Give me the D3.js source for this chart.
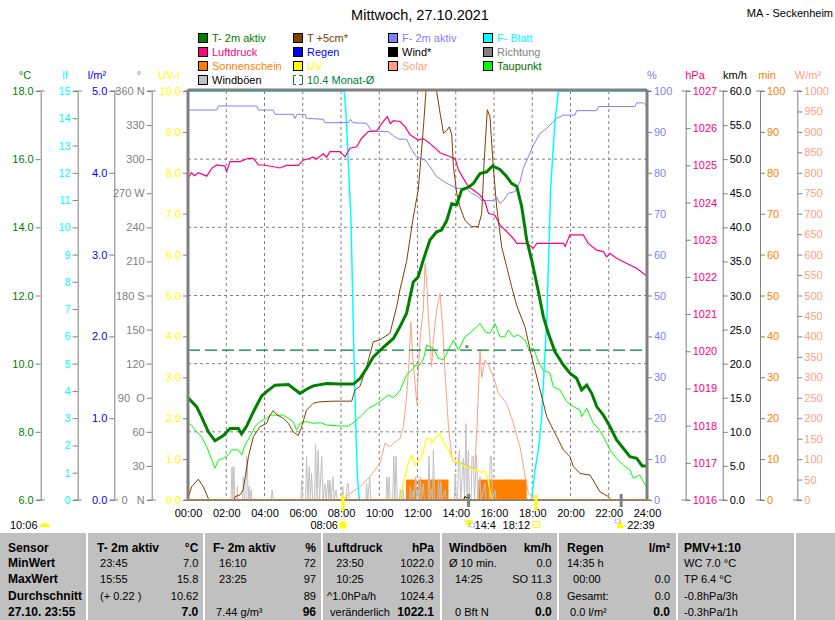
<!DOCTYPE html>
<html lang="de">
<head>
<meta charset="UTF-8">
<title>Mittwoch, 27.10.2021</title>
<script src="https://d3js.org/d3.v7.min.js"></script>
<style>
  body { margin: 0; background: #fff; }
  svg { display: block; font-family: "Liberation Sans", Arial, sans-serif; font-size: 11px; }
  .grid { stroke: #808080; stroke-dasharray: 3,3; stroke-width: 1; }
  .axis line, .axis path { stroke: #808080; }
  .axis text, .tbl text { white-space: pre; }
  .line { fill: none; }
  .b { font-weight: bold; font-size: 12px; }
</style>
</head>
<body>
<svg width="835" height="620"></svg>
<script>
// ---- data (hour, value) ----
const tempAir = [[0,9.0],[0.45,8.74],[0.71,8.44],[1.06,8.0],[1.41,7.74],[1.85,7.89],[2.2,8.1],[2.63,8.1],[2.8,7.94],[3.07,8.17],[3.42,8.59],[3.85,9.05],[4.11,9.18],[4.55,9.37],[5.25,9.39],[5.5,9.28],[5.86,9.13],[6.2,9.25],[6.55,9.35],[7.25,9.42],[7.95,9.4],[8.65,9.4],[9.0,9.57],[9.34,9.86],[9.69,10.2],[10.21,10.48],[10.74,10.74],[11.08,11.08],[11.43,11.48],[11.6,11.93],[11.78,12.4],[12.04,12.55],[12.3,13.04],[12.65,13.63],[13.0,13.87],[13.26,13.92],[13.53,14.2],[13.79,14.69],[14.05,14.66],[14.31,15.1],[14.66,15.18],[14.92,15.29],[15.27,15.58],[15.62,15.63],[15.92,15.8],[16.31,15.7],[16.66,15.49],[16.92,15.29],[17.19,15.2],[17.45,14.6],[17.71,13.63],[17.97,13.04],[18.23,12.36],[18.41,11.87],[18.58,11.38],[18.84,10.89],[19.19,10.35],[19.63,9.96],[19.97,9.72],[20.32,9.57],[20.58,9.23],[20.85,9.37],[21.11,9.13],[21.37,8.74],[21.72,8.49],[22.07,8.15],[22.41,7.76],[22.76,7.52],[23.11,7.27],[23.46,7.22],[23.75,7.0],[24,7.0]];
const tempSoil = [[0,6.05],[0.19,6.39],[0.54,6.61],[0.8,6.39],[1.06,6.05],[1.2,5.8],[2.3,5.8],[2.46,6.1],[2.72,6.15],[2.89,6.3],[3.16,7.27],[3.42,7.86],[3.76,8.15],[4.11,8.25],[4.29,8.49],[4.46,8.62],[4.64,8.5],[4.98,8.4],[5.25,8.25],[5.5,8.0],[5.77,7.89],[5.94,8.15],[6.2,8.64],[6.55,8.84],[6.9,8.88],[7.6,8.9],[8.56,8.9],[8.73,9.23],[8.99,9.33],[9.34,9.91],[9.69,10.64],[10.04,10.7],[10.56,10.89],[10.91,11.67],[11.08,12.16],[11.43,13.0],[11.78,14.3],[12.04,15.1],[12.3,16.86],[12.48,18.3],[12.6,18.8],[12.9,18.5],[13.0,18.0],[13.18,17.35],[13.36,16.76],[13.53,16.85],[13.67,16.95],[13.79,16.71],[13.88,15.78],[14.05,15.0],[14.22,14.6],[14.48,14.2],[14.83,14.02],[15.18,14.02],[15.36,14.41],[15.48,15.88],[15.65,17.45],[15.79,17.25],[15.96,15.78],[16.14,14.6],[16.4,13.43],[16.66,12.85],[16.92,12.26],[17.19,11.7],[17.62,11.08],[17.97,10.2],[18.41,9.23],[18.76,8.44],[19.28,7.86],[19.63,7.47],[19.97,7.27],[20.15,6.98],[20.5,6.78],[21.02,6.73],[21.28,6.49],[21.54,6.24],[21.98,6.1],[22.07,6.0],[22.3,5.8],[24,5.8]];
const dewPoint = [[0,8.25],[0.18,8.2],[0.45,8.0],[0.71,7.86],[0.98,7.56],[1.15,7.32],[1.41,6.93],[1.59,7.17],[1.85,7.22],[2.11,7.32],[2.28,7.47],[2.63,7.47],[2.81,7.32],[2.98,7.61],[3.24,7.86],[3.5,8.15],[3.76,8.3],[4.11,8.4],[4.29,8.49],[4.98,8.49],[5.25,8.4],[5.5,8.3],[5.68,8.05],[5.86,8.25],[6.2,8.3],[6.55,8.25],[6.9,8.27],[7.25,8.2],[7.95,8.17],[8.38,8.17],[8.73,8.3],[9.08,8.49],[9.43,8.69],[9.78,8.79],[10.13,8.93],[10.48,9.08],[10.74,9.0],[11.08,9.2],[11.43,9.67],[11.78,9.86],[11.87,9.96],[12.04,9.93],[12.3,10.11],[12.48,10.55],[12.83,10.45],[13.09,10.16],[13.36,10.11],[13.62,10.4],[13.88,10.69],[14.14,10.4],[14.48,10.79],[14.83,10.94],[15.27,11.18],[15.53,10.94],[15.79,10.89],[16.05,11.18],[16.31,10.79],[16.57,10.79],[16.75,10.99],[17.01,10.79],[17.27,10.84],[17.62,10.69],[17.8,10.45],[18.06,10.45],[18.32,10.06],[18.58,9.81],[18.93,9.72],[19.1,9.32],[19.45,9.23],[19.8,8.88],[20.15,8.74],[20.5,8.64],[20.58,8.44],[20.85,8.69],[21.19,8.25],[21.46,8.1],[21.72,7.86],[22.07,7.47],[22.41,7.22],[22.76,7.03],[23.11,6.88],[23.28,6.64],[23.63,6.73],[23.9,6.44],[24,6.39]];
const monthAvg = 10.4;
const pressure = [[0,1024.65],[0.18,1024.8],[0.35,1024.72],[0.54,1024.8],[0.98,1024.71],[1.24,1024.92],[1.5,1025.01],[1.93,1024.98],[2.02,1024.83],[2.2,1025.1],[2.72,1025.1],[3.16,1025.19],[3.42,1025.19],[3.68,1025.01],[3.94,1025.01],[4.64,1024.95],[4.81,1024.93],[5.16,1025.0],[5.77,1025.0],[6.03,1025.14],[6.55,1025.22],[6.73,1025.17],[7.07,1025.31],[7.25,1025.22],[7.42,1025.37],[7.95,1025.37],[8.21,1025.23],[8.47,1025.46],[8.82,1025.5],[9.08,1025.73],[9.43,1025.91],[9.87,1025.93],[10.13,1026.13],[10.42,1026.31],[10.58,1026.12],[10.74,1026.2],[11.08,1026.18],[11.35,1026.04],[11.61,1025.82],[12.04,1025.68],[12.3,1025.72],[12.65,1025.59],[13.18,1025.34],[13.71,1025.23],[13.97,1025.18],[14.14,1024.88],[14.4,1024.65],[14.66,1024.43],[14.92,1024.34],[15.27,1024.2],[15.53,1024.02],[15.71,1023.71],[16.05,1023.66],[16.31,1023.4],[16.66,1023.22],[17.0,1023.04],[17.19,1022.9],[17.71,1022.9],[18.06,1022.77],[18.24,1022.9],[19.63,1022.9],[19.72,1022.82],[19.97,1023.13],[20.67,1023.13],[20.93,1022.9],[21.37,1022.72],[21.72,1022.68],[21.89,1022.54],[22.07,1022.63],[22.41,1022.5],[22.76,1022.41],[23.11,1022.32],[23.46,1022.23],[24,1022.02]];
const humidity = [[0,95.35],[1.5,95.35],[1.59,96.33],[3.59,96.33],[3.68,95.35],[4.46,95.35],[4.55,94.3],[5.5,94.3],[5.59,93.3],[5.71,94.3],[6.12,94.3],[6.2,93.3],[7.07,93.1],[7.16,92.26],[8.38,92.26],[8.5,93.08],[8.62,92.26],[9.34,92.1],[9.6,90.2],[10.48,90.05],[10.74,89.07],[11.0,88.26],[11.43,88.2],[11.61,86.38],[11.87,84.35],[12.13,83.55],[12.39,83.13],[12.65,81.5],[13.0,79.05],[13.53,77.43],[14.05,76.2],[14.57,76.2],[14.83,75],[15.18,74.16],[15.36,73.2],[15.96,73.2],[16.14,74.0],[16.31,72.5],[16.49,73.2],[16.75,75],[17.1,75.4],[17.36,77.8],[17.53,81.1],[17.8,83.94],[18.06,86.8],[18.41,89.65],[18.76,90.87],[19.1,92.5],[19.28,93.3],[19.63,94.1],[20.24,94.1],[20.32,95.2],[21.37,95.2],[21.46,96.2],[23.37,96.2],[23.46,97.1],[23.81,97.1],[24,96.3]];
const leafWet = [[0,15],[8.17,15],[8.26,14.18],[8.33,13.2],[8.43,11.61],[8.51,10.5],[8.56,9.05],[8.61,7.5],[8.68,5.25],[8.77,2.8],[8.86,0.85],[8.96,0],[17.97,0],[18.14,1.1],[18.32,1.83],[18.49,3.05],[18.61,4.65],[18.76,6.6],[18.84,8.5],[18.96,11.37],[19.1,12.96],[19.19,13.93],[19.28,14.42],[19.37,15],[24,15]];
const solar = [[0,0],[8.09,0],[8.47,16],[9.0,33],[9.52,57],[10.04,90],[10.3,139],[10.56,130],[10.74,139],[11.08,150],[11.26,180],[11.43,250],[11.57,350],[11.65,436],[11.75,350],[11.96,238],[12.13,391],[12.3,465],[12.4,578],[12.5,520],[12.57,448],[12.74,326],[12.83,391],[13.0,465],[13.18,505],[13.32,420],[13.44,310],[13.62,179],[13.79,106],[13.97,90],[14.22,92],[14.57,86],[14.83,78],[15.0,78],[15.12,188],[15.27,367],[15.36,300],[15.53,342],[15.71,330],[15.97,301],[16.23,261],[16.66,236],[17.01,188],[17.36,130],[17.62,61],[17.8,16],[18.06,8],[18.32,0],[24,0]];
const uvIndex = [[11.08,0],[11.26,0.41],[11.52,0.9],[11.69,1.1],[11.87,0.86],[12.13,0.98],[12.3,1.18],[12.48,1.51],[12.65,1.51],[12.74,1.39],[12.92,1.51],[13.18,1.63],[13.36,1.39],[13.53,1.3],[13.71,1.14],[13.88,0.94],[14.14,0.94],[14.31,0.86],[14.57,0.81],[14.75,0.77],[15.0,0.73],[15.27,0.69],[15.53,0.69],[15.65,0.57],[15.79,0.24],[15.88,0]];
const gusts = [[0,0],[2.25,0],[2.3,4.9],[2.35,0],[2.4,4.9],[2.45,0],[2.55,0],[2.58,2],[2.62,0],[2.85,0],[2.89,3.4],[2.95,0],[3.03,0],[3.06,6.4],[3.1,5.4],[3.15,0],[3.2,2],[3.25,0],[3.3,1.5],[3.35,0],[4.35,0],[4.4,1.5],[4.46,0],[5.9,0],[5.94,2.9],[6.0,0],[6.15,0],[6.2,6.4],[6.27,0],[6.34,4.9],[6.4,0],[6.46,3.9],[6.52,0],[6.62,0],[6.67,8.1],[6.74,0],[6.8,7.3],[6.88,0],[6.99,6.4],[7.06,0],[7.16,2.4],[7.22,0],[7.32,2.9],[7.37,0],[7.42,2.9],[7.48,0],[7.58,3.4],[7.64,0],[7.74,1.5],[7.8,0],[8.05,0],[8.09,2],[8.14,0],[8.28,0],[8.32,2.4],[8.38,2.4],[8.43,0],[9.3,0],[9.34,2.4],[9.4,0],[9.5,3.4],[9.56,0],[10.35,0],[10.4,3.4],[10.46,0],[10.52,3.4],[10.58,0],[10.7,0],[10.76,6.4],[10.82,0],[10.88,6.4],[10.94,0],[11.06,0],[11.1,1.5],[11.16,0],[11.22,2],[11.28,0],[11.58,0],[11.62,2],[11.68,0],[11.76,1.5],[11.82,0],[11.9,3.4],[11.96,0],[12.02,1.5],[12.08,0],[12.15,3.4],[12.2,0],[12.3,2.4],[12.36,0],[12.55,0],[12.6,6.4],[12.66,0],[12.74,1.5],[12.79,0],[12.83,7.3],[12.9,0],[13.05,0],[13.1,2.9],[13.16,0],[13.22,2.7],[13.28,0],[13.44,1.5],[13.5,0],[13.92,0],[13.97,3.9],[14.03,0],[14.1,0],[14.15,6.4],[14.2,7.3],[14.26,0],[14.4,6.1],[14.46,0],[14.53,11.2],[14.6,0],[14.66,7.3],[14.72,0],[14.8,0],[14.85,6.4],[14.92,6.4],[14.98,0],[15.09,6.6],[15.15,0],[15.27,3.4],[15.32,0],[15.53,2.4],[15.58,0],[15.75,0],[15.8,6.4],[15.86,6.4],[15.92,0],[16.05,1.5],[16.1,0],[24,0]];
const wind = [[0,0],[14.4,0],[14.48,0.5],[14.6,0.3],[14.7,0],[24,0]];
const rain = [[0,0],[24,0]];
const windDir = [[14.58,135]];
const sunPeriods = [[11.4,11.96],[12.04,13.62],[15.18,17.71]];
const sunMinutes = 5;
const sunEvents = [[8.1,"08:06"],[18.2,"18:12"]];
const moonEvents = [[14.67,"14:4"],[22.65,"22:39"]];

// ---- ticks ----
const hourTicks = d3.range(0, 25, 2);
const tempTicks = [6,8,10,12,14,16,18];
const leafTicks = d3.range(0, 16);
const rainTicks = [0,1,2,3,4,5];
const dirTicks = d3.range(0, 361, 30);
const dirLabels = {0:"0   N", 90:"90  O", 180:"180 S", 270:"270 W", 360:"360 N"};
const uvTicks = d3.range(0, 11);
const humTicks = d3.range(0, 101, 10);
const pressTicks = d3.range(1016, 1028);
const windTicks = d3.range(0, 61, 5);
const minTicks = d3.range(0, 101, 10);
const solarTicks = d3.range(0, 1001, 50);

// ---- legend & table text ----
const legendItems = [
  ["T- 2m aktiv","#008000","#008000"],["T +5cm*","#804000","#804000"],["F- 2m aktiv","#8080ff","#8080ff"],["F- Blatt","#00ffff","#00ffff"],
  ["Luftdruck","#ff0080","#ff0080"],["Regen","#0000ff","#0000ff"],["Wind*","#000000","#000000"],["Richtung","#808080","#808080"],
  ["Sonnenschein","#ff8000","#ff8000"],["UV","#ffff00","#ffff00"],["Solar","#ffa080","#ffa080"],["Taupunkt","#00ff00","#007000"],
  ["Windböen","#c0c0c0","#000000"],["10.4 Monat-Ø",null,"#008040"]
];
const tableHead = [["Sensor",""],["T- 2m aktiv","°C"],["F- 2m aktiv","%"],["Luftdruck","hPa"],["Windböen","km/h"],["Regen","l/m²"],["PMV+1:10",""]];
const tableLeft = [
  ["MinWert","MaxWert","Durchschnitt","27.10. 23:55"],
  [" 23:45"," 15:55"," (+ 0.22 )",""],
  ["  16:10","  23:25",""," 7.44 g/m³"],
  ["   23:50","   10:25","^1.0hPa/h"," veränderlich"],
  ["Ø 10 min.","  14:25","","  0 Bft N"],
  ["14:35 h","  00:00","Gesamt:"," 0.0 l/m²"],
  ["WC 7.0 °C","TP 6.4 °C","-0.8hPa/3h","-0.3hPa/1h"]
];
const tableRight = [
  [],
  ["7.0","15.8","10.62","7.0"],
  ["72","97","89","96"],
  ["1022.0","1026.3","1024.4","1022.1"],
  ["0.0","SO 11.3","0.8","0.0"],
  ["","0.0","0.0","0.0"],
  []
];

// ---- layout ----
const X0 = 188, X1 = 647, Y0 = 91, Y1 = 500;
const svg = d3.select("svg");

const x = d3.scaleLinear().domain([0, 24]).range([X0, X1]);
const yT = d3.scaleLinear().domain([6, 18]).range([Y1, Y0]);
const yLf = d3.scaleLinear().domain([0, 15]).range([Y1, Y0]);
const yRain = d3.scaleLinear().domain([0, 5]).range([Y1, Y0]);
const yDir = d3.scaleLinear().domain([0, 360]).range([Y1, Y0]);
const yUV = d3.scaleLinear().domain([0, 10]).range([Y1, Y0]);
const yHum = d3.scaleLinear().domain([0, 100]).range([Y1, Y0]);
const yP = d3.scaleLinear().domain([1016, 1027]).range([Y1, Y0]);
const yWind = d3.scaleLinear().domain([0, 60]).range([Y1, Y0]);
const yMin = d3.scaleLinear().domain([0, 100]).range([Y1, Y0]);
const ySolar = d3.scaleLinear().domain([0, 1000]).range([Y1, Y0]);

// title
svg.append("text").attr("x", 420).attr("y", 20).attr("text-anchor", "middle")
  .style("font-size", "14.5px").text("Mittwoch, 27.10.2021");
svg.append("text").attr("x", 833).attr("y", 17).attr("text-anchor", "end").text("MA - Seckenheim");

// legend
const legend = svg.append("g");
legendItems.forEach((d, i) => {
  const lx = [198, 293, 388, 483][i % 4], ly = [38, 52, 66, 80][Math.floor(i / 4)];
  if (d[1]) {
    legend.append("rect").attr("x", lx + 0.5).attr("y", ly - 4.5).attr("width", 9).attr("height", 9)
      .attr("fill", d[1]).attr("stroke", "#000");
  } else {
    legend.append("path").attr("d", `M${lx+3},${ly-4.5}H${lx+0.5}V${ly+4.5}H${lx+3}M${lx+6},${ly-4.5}H${lx+9.5}V${ly+4.5}H${lx+6}`)
      .attr("fill", "none").attr("stroke", d[2]);
  }
  legend.append("text").attr("x", lx + 14).attr("y", ly + 4).attr("fill", d[2]).text(d[0]);
});

// grid
const grid = svg.append("g");
grid.selectAll("line.h").data([8, 10, 12, 14, 16]).join("line").attr("class", "grid h")
  .attr("x1", X0).attr("x2", X1).attr("y1", d => yT(d)).attr("y2", d => yT(d));
grid.selectAll("line.v").data(hourTicks.slice(1, -1)).join("line").attr("class", "grid v")
  .attr("y1", Y0).attr("y2", Y1).attr("x1", d => x(d)).attr("x2", d => x(d));

// axes
const f1 = d3.format(".1f"), f0 = d3.format("d");
const axesDef = [
  {s: yT, x: 40.7, t: tempTicks, f: f1, c: "#008000", u: "°C", ux: 25, left: true},
  {s: yLf, x: 77.7, t: leafTicks, f: f0, c: "#00ffff", u: "lf", ux: 65, left: true},
  {s: yRain, x: 114.3, t: rainTicks, f: f1, c: "#0000ff", u: "l/m²", ux: 97, left: true},
  {s: yDir, x: 151.7, t: dirTicks, f: d => dirLabels[d] || d, c: "#808080", u: "°", ux: 139, left: true},
  {s: yUV, x: X0, t: uvTicks, f: f1, c: "#ffff00", u: "UV-I", ux: 169, left: true},
  {s: yHum, x: X1, t: humTicks, f: f0, c: "#8080ff", u: "%", ux: 652, left: false},
  {s: yP, x: 685.7, t: pressTicks, f: f0, c: "#ff0080", u: "hPa", ux: 695, left: false},
  {s: yWind, x: 722.7, t: windTicks, f: f1, c: "#000000", u: "km/h", ux: 735, left: false},
  {s: yMin, x: 760, t: minTicks, f: f0, c: "#ff8000", u: "min", ux: 767, left: false},
  {s: ySolar, x: 797.3, t: solarTicks, f: f0, c: "#ffa080", u: "W/m²", ux: 808, left: false}
];
axesDef.forEach(a => {
  const ax = (a.left ? d3.axisLeft(a.s) : d3.axisRight(a.s))
    .tickValues(a.t).tickFormat(a.f).tickSizeInner(5).tickSizeOuter(0).tickPadding(2);
  const g = svg.append("g").attr("class", "axis").attr("transform", `translate(${a.x},0)`).call(ax)
    .attr("font-size", null).attr("font-family", null);
  g.selectAll("text").attr("fill", a.c);
  g.append("line").attr("x1", -4).attr("x2", 4).attr("y1", Y0).attr("y2", Y0);
  g.append("line").attr("x1", -4).attr("x2", 4).attr("y1", Y1).attr("y2", Y1);
  svg.append("text").attr("x", a.ux).attr("y", 79).attr("text-anchor", "middle").attr("fill", a.c).text(a.u);
});

// plot area
svg.append("clipPath").attr("id", "plotclip").append("rect")
  .attr("x", X0).attr("y", Y0 - 2).attr("width", X1 - X0).attr("height", Y1 - Y0 + 2);
const plot = svg.append("g").attr("clip-path", "url(#plotclip)");

function drawLine(data, y, color, w, dash) {
  plot.append("path").datum(data).attr("class", "line")
    .attr("d", d3.line().x(d => x(d[0])).y(d => y(d[1])))
    .attr("stroke", color).attr("stroke-width", w).attr("stroke-dasharray", dash || null);
}

plot.selectAll("rect.sun").data(sunPeriods).join("rect").attr("class", "sun")
  .attr("x", d => x(d[0])).attr("width", d => x(d[1]) - x(d[0]))
  .attr("y", yMin(sunMinutes)).attr("height", yMin(0) - yMin(sunMinutes)).attr("fill", "#ff8000");
drawLine(solar, ySolar, "#ffa080", 1);
drawLine(gusts, yWind, "#c0c0c0", 1);
drawLine(uvIndex, yUV, "#ffff00", 1.2);
drawLine(rain, yRain, "#0000ff", 1);
drawLine(wind, yWind, "#000000", 1);
drawLine(leafWet, yLf, "#00ffff", 1.5);
drawLine(humidity, yHum, "#8080ff", 1);
drawLine(pressure, yP, "#ff0080", 1.2);
drawLine(dewPoint, yT, "#00ff00", 1);
drawLine(tempSoil, yT, "#804000", 1);
drawLine([[0, monthAvg], [24, monthAvg]], yT, "#008040", 1.2, "12,5");
drawLine(tempAir, yT, "#008000", 3);
plot.selectAll("rect.dir").data(windDir).join("rect").attr("class", "dir")
  .attr("x", d => x(d[0]) - 1.5).attr("y", d => yDir(d[1]) - 1.5).attr("width", 3).attr("height", 3).attr("fill", "#808080");

// frame
const frame = svg.append("g").attr("stroke", "#808080");
frame.append("line").attr("x1", X0).attr("x2", X0).attr("y1", Y0 - 1.5).attr("y2", Y1 + 1).attr("stroke-width", 3);
frame.append("line").attr("x1", X1).attr("x2", X1).attr("y1", Y0 - 1.5).attr("y2", Y1 + 1).attr("stroke-width", 3);
frame.append("line").attr("x1", X0).attr("x2", X1).attr("y1", Y0 - 1).attr("y2", Y0 - 1).attr("stroke-width", 3);
frame.append("line").attr("x1", X0).attr("x2", X1).attr("y1", Y1).attr("y2", Y1).attr("stroke-width", 2);
svg.append("path").datum([[0, 0], [24, 0]])
  .attr("d", d3.line().x(d => x(d[0])).y(d => yMin(d[1]) - 0.5))
  .attr("stroke", "#ff8000").attr("stroke-dasharray", "2,2").attr("fill", "none");

// x axis labels
const xg = svg.append("g").attr("transform", `translate(0,${Y1})`)
  .call(d3.axisBottom(x).tickValues(hourTicks).tickSize(0).tickPadding(9)
    .tickFormat(d => String(d).padStart(2, "0") + ":00"))
  .attr("font-size", null).attr("font-family", null);
xg.select(".domain").remove();

// sun / moon markers
const marks = svg.append("g");
sunEvents.forEach((d, i) => {
  const mx = x(d[0]);
  marks.append("line").attr("x1", mx).attr("x2", mx).attr("y1", 495).attr("y2", 511)
    .attr("stroke", "#ffff00").attr("stroke-width", 3);
  marks.append("text").attr("x", mx - (i ? 6 : 5)).attr("y", 529).attr("text-anchor", "end").text(d[1]);
  if (i === 0) {
    marks.append("circle").attr("cx", mx).attr("cy", 525).attr("r", 3.5).attr("fill", "#ffff00");
    marks.append("circle").attr("cx", mx).attr("cy", 525).attr("r", 5.5).attr("fill", "none")
      .attr("stroke", "#ffff00").attr("stroke-dasharray", "1.5,1.5");
  } else {
    marks.append("rect").attr("x", mx - 2.5).attr("y", 521.5).attr("width", 6).attr("height", 6)
      .attr("fill", "none").attr("stroke", "#ffff00");
  }
});
moonEvents.forEach((d, i) => {
  const mx = x(d[0]);
  marks.append("line").attr("x1", mx).attr("x2", mx).attr("y1", 494).attr("y2", 507)
    .attr("stroke", "#808080").attr("stroke-width", 3);
  const tip = i ? `M${mx-1},520L${mx+3},528H${mx-5}Z` : `M${mx-4},520H${mx+4}L${mx},528Z`;
  marks.append("path").attr("d", tip).attr("fill", "#ffff00");
  marks.append("rect").attr("x", i ? mx - 6 : mx + 1).attr("y", i ? 519 : 523).attr("width", 5).attr("height", 4)
    .attr("fill", "none").attr("stroke", "#8080ff").attr("stroke-dasharray", "1,1");
  marks.append("text").attr("x", mx + (i ? 6 : 6)).attr("y", 529).text(d[1]);
});
marks.append("text").attr("x", 10).attr("y", 529).text("10:06");
marks.append("path").attr("d", "M40,527A5,4 0 0 1 50,527Z").attr("fill", "#ffff00");

// table
const colX = [0, 87, 204, 322, 441, 558, 677, 795, 835];
const leftX = [8, 97, 213, 327, 449, 567, 684];
const rightX = [0, 198.3, 316, 434, 551.7, 670, 0];
const rowY = [552, 567, 583, 600, 616];
const tbl = svg.append("g").attr("class", "tbl");
tbl.append("rect").attr("x", 0).attr("y", 533).attr("width", 835).attr("height", 87).attr("fill", "#c0c0c0");
tbl.selectAll("line").data(colX.slice(1, -1)).join("line")
  .attr("x1", d => d).attr("x2", d => d).attr("y1", 533).attr("y2", 620)
  .attr("stroke", "#fff").attr("stroke-width", 2);
tableHead.forEach((h, c) => {
  tbl.append("text").attr("class", "b").attr("x", leftX[c]).attr("y", rowY[0]).text(h[0]);
  if (h[1]) tbl.append("text").attr("class", "b").attr("x", rightX[c]).attr("y", rowY[0])
    .attr("text-anchor", "end").text(h[1]);
});
tableLeft.forEach((col, c) => col.forEach((t, r) => {
  tbl.append("text").attr("class", c === 0 ? "b" : null).attr("x", leftX[c]).attr("y", rowY[r + 1]).text(t);
}));
tableRight.forEach((col, c) => col.forEach((t, r) => {
  tbl.append("text").attr("class", r === 3 ? "b" : null).attr("x", rightX[c]).attr("y", rowY[r + 1])
    .attr("text-anchor", "end").text(t);
}));
</script>
</body>
</html>
